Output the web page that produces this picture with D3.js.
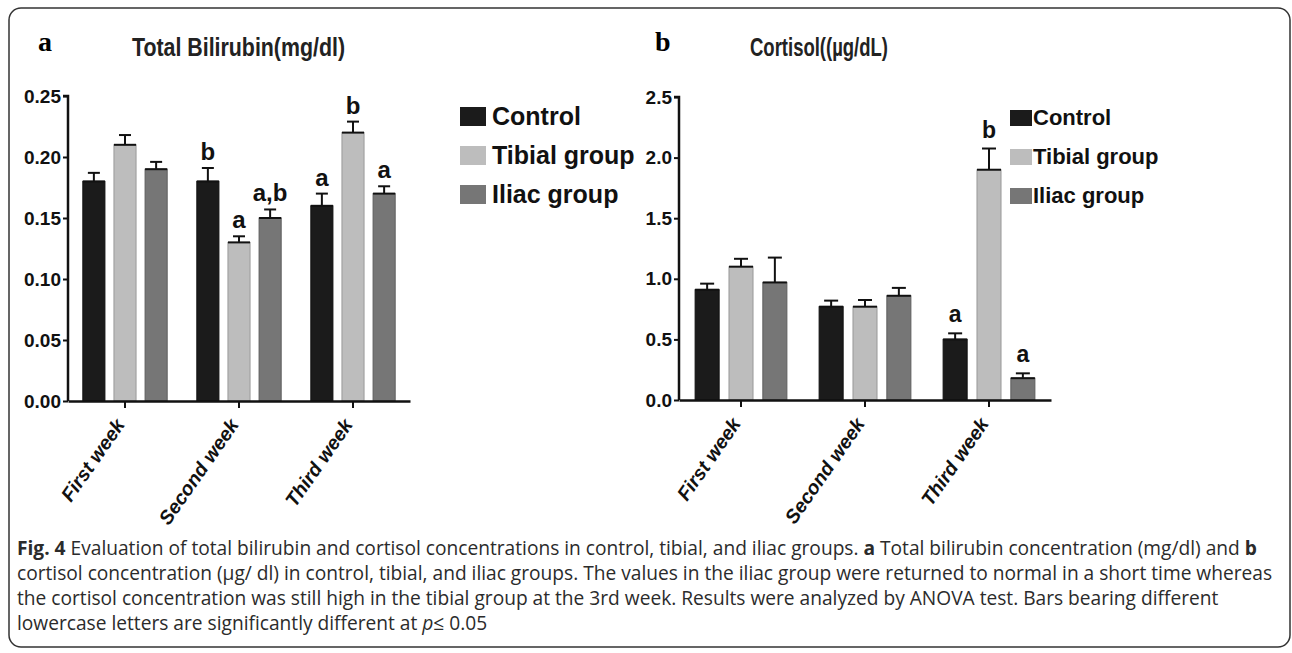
<!DOCTYPE html>
<html lang="en">

<head>
    <title>Bilirubin and cortisol</title>
    <meta charset="utf-8" />
    <script src="https://d3js.org/d3.v7.min.js"></script>
    <style>
        body,
        html {
            margin: 0;
            padding: 0;
            background: #fff;
            overflow: hidden;
        }

        .tick text {
            font-family: "Liberation Sans", Arial, sans-serif;
            font-weight: bold;
        }
    </style>
</head>

<body>
    <div id="chart"></div>
    <script>
        // categories
        const weeks = ["First week", "Second week", "Third week"];
        const groups = ["Control", "Tibial group", "Iliac group"];

        // total bilirubin (mg/dl), mean and upper SEM
        const biliControl = [0.18, 0.18, 0.16];
        const biliTibial = [0.21, 0.13, 0.22];
        const biliIliac = [0.19, 0.15, 0.17];
        const biliControlErr = [0.007, 0.011, 0.010];
        const biliTibialErr = [0.008, 0.005, 0.009];
        const biliIliacErr = [0.006, 0.007, 0.006];
        const biliLetters = [["", "", ""], ["b", "a", "a,b"], ["a", "b", "a"]];
        const biliTicks = [0, 0.05, 0.10, 0.15, 0.20, 0.25];

        // cortisol (µg/dL), mean and upper SEM
        const cortControl = [0.91, 0.77, 0.50];
        const cortTibial = [1.10, 0.77, 1.90];
        const cortIliac = [0.97, 0.86, 0.18];
        const cortControlErr = [0.05, 0.05, 0.05];
        const cortTibialErr = [0.065, 0.055, 0.175];
        const cortIliacErr = [0.205, 0.065, 0.04];
        const cortLetters = [["", "", ""], ["", "", ""], ["a", "b", "a"]];
        const cortTicks = [0, 0.5, 1.0, 1.5, 2.0, 2.5];

        const fills = ["#1b1b1b", "#bdbdbd", "#767676"];
        const strokes = ["#111", "#9a9a9a", "#5e5e5e"];

        const W = 1292, H = 653;
        const svg = d3.select("#chart").append("svg")
            .attr("width", W)
            .attr("height", H);

        // frame
        svg.append("rect")
            .attr("x", 9).attr("y", 8)
            .attr("width", 1281).attr("height", 639)
            .attr("rx", 12)
            .attr("fill", "none")
            .attr("stroke", "#333")
            .attr("stroke-width", 1.5);

        function drawPanel(p) {
            const rows = weeks.map((w, i) => ({
                week: w,
                vals: [p.control[i], p.tibial[i], p.iliac[i]],
                errs: [p.controlErr[i], p.tibialErr[i], p.iliacErr[i]],
                letters: p.letters[i]
            }));

            const x0 = d3.scaleBand()
                .domain(weeks)
                .range([p.left, p.right])
                .paddingInner(0.26)
                .paddingOuter(0.13);
            const x1 = d3.scaleBand()
                .domain(groups)
                .range([0, x0.bandwidth()])
                .paddingInner(0.29)
                .paddingOuter(0);
            const y = d3.scaleLinear()
                .domain([0, p.max])
                .range([p.bottom, p.top]);

            const g = svg.append("g");

            // panel letter + title
            g.append("text")
                .attr("x", p.letterX).attr("y", 51)
                .attr("font-family", "'Liberation Serif', 'Times New Roman', serif")
                .attr("font-weight", "bold")
                .attr("font-size", 28)
                .text(p.panel);
            g.append("text")
                .attr("x", p.titleX).attr("y", 56)
                .attr("font-family", "'Liberation Sans Narrow', 'Liberation Sans', Arial, sans-serif")
                .attr("font-weight", "bold")
                .attr("font-size", 26)
                .attr("textLength", p.titleW)
                .attr("lengthAdjust", "spacingAndGlyphs")
                .attr("fill", "#222")
                .text(p.title);

            const bars = g.selectAll(".grp")
                .data(rows)
                .join("g")
                .attr("transform", d => `translate(${x0(d.week)},0)`);

            const items = bars.selectAll("g")
                .data(d => groups.map((k, j) => ({ key: k, j, v: d.vals[j], e: d.errs[j], l: d.letters[j] })))
                .join("g");

            // error bars (upper only)
            items.append("line")
                .attr("x1", d => x1(d.key) + x1.bandwidth() / 2)
                .attr("x2", d => x1(d.key) + x1.bandwidth() / 2)
                .attr("y1", d => y(d.v))
                .attr("y2", d => y(d.v + d.e))
                .attr("stroke", "#111")
                .attr("stroke-width", 2);
            items.append("line")
                .attr("x1", d => x1(d.key) + x1.bandwidth() / 2 - p.cap)
                .attr("x2", d => x1(d.key) + x1.bandwidth() / 2 + p.cap)
                .attr("y1", d => y(d.v + d.e))
                .attr("y2", d => y(d.v + d.e))
                .attr("stroke", "#111")
                .attr("stroke-width", 2);

            items.append("rect")
                .attr("x", d => x1(d.key))
                .attr("y", d => y(d.v))
                .attr("width", x1.bandwidth())
                .attr("height", d => y(0) - y(d.v))
                .attr("fill", d => fills[d.j])
                .attr("stroke", d => strokes[d.j])
                .attr("stroke-width", 1);
            // bar top edge
            items.append("line")
                .attr("x1", d => x1(d.key))
                .attr("x2", d => x1(d.key) + x1.bandwidth())
                .attr("y1", d => y(d.v))
                .attr("y2", d => y(d.v))
                .attr("stroke", "#111")
                .attr("stroke-width", 2);

            // significance letters
            items.filter(d => d.l !== "")
                .append("text")
                .attr("x", d => x1(d.key) + x1.bandwidth() / 2)
                .attr("y", d => y(d.v + d.e) - p.letterGap)
                .attr("text-anchor", "middle")
                .attr("font-family", "'Liberation Sans', Arial, sans-serif")
                .attr("font-weight", "bold")
                .attr("font-size", p.letterSize)
                .attr("fill", "#111")
                .text(d => d.l);

            // axes
            const yAxis = d3.axisLeft(y)
                .tickValues(p.ticks)
                .tickFormat(d3.format(p.fmt))
                .tickSize(5)
                .tickPadding(2);
            const ya = g.append("g")
                .attr("transform", `translate(${p.left},0)`)
                .call(yAxis);
            ya.select(".domain").attr("stroke-width", 2.5).attr("stroke", "#111")
                .attr("d", `M-5,${p.top}H0V${p.bottom}`);
            ya.selectAll(".tick line").attr("stroke-width", 2).attr("stroke", "#111");
            ya.selectAll(".tick text").attr("font-size", 19).attr("fill", "#111");

            const xAxis = d3.axisBottom(x0)
                .tickSize(7)
                .tickSizeOuter(0)
                .tickPadding(2);
            const xa = g.append("g")
                .attr("transform", `translate(0,${p.bottom})`)
                .call(xAxis);
            xa.select(".domain").attr("stroke-width", 2.5).attr("stroke", "#111");
            xa.selectAll(".tick line").attr("stroke-width", 2).attr("stroke", "#111");
            xa.selectAll(".tick text")
                .attr("font-size", 19.5)
                .attr("font-style", "italic")
                .attr("fill", "#111")
                .attr("text-anchor", "end")
                .attr("dy", "0.35em")
                .attr("transform", "translate(-5,20) rotate(-55)")
                .attr("y", 0)
                .attr("x", 0);

            // legend
            const leg = g.append("g")
                .selectAll("g")
                .data(groups)
                .join("g")
                .attr("transform", (d, i) => `translate(${p.legX},${125 + i * 39})`);
            leg.append("rect")
                .attr("x", 0)
                .attr("y", -p.legBoxH + 1)
                .attr("width", p.legBoxW)
                .attr("height", p.legBoxH)
                .attr("fill", (d, i) => fills[i]);
            leg.append("text")
                .attr("x", p.legBoxW + p.legGap)
                .attr("y", 0)
                .attr("font-family", "'Liberation Sans', Arial, sans-serif")
                .attr("font-weight", "bold")
                .attr("font-size", p.legSize)
                .attr("fill", "#111")
                .text(d => d);
        }

        drawPanel({
            panel: "a", letterX: 38, title: "Total Bilirubin(mg/dl)", titleX: 132, titleW: 213,
            control: biliControl, tibial: biliTibial, iliac: biliIliac,
            controlErr: biliControlErr, tibialErr: biliTibialErr, iliacErr: biliIliacErr,
            letters: biliLetters, ticks: biliTicks, fmt: ".2f", max: 0.25,
            left: 68, right: 410, top: 96, bottom: 401, cap: 6,
            letterGap: 8, letterSize: 24,
            legX: 460, legBoxW: 26, legBoxH: 19, legGap: 6, legSize: 25
        });

        drawPanel({
            panel: "b", letterX: 655, title: "Cortisol((µg/dL)", titleX: 750, titleW: 138,
            control: cortControl, tibial: cortTibial, iliac: cortIliac,
            controlErr: cortControlErr, tibialErr: cortTibialErr, iliacErr: cortIliacErr,
            letters: cortLetters, ticks: cortTicks, fmt: ".1f", max: 2.5,
            left: 679, right: 1051, top: 97, bottom: 400, cap: 7,
            letterGap: 11, letterSize: 23,
            legX: 1010, legBoxW: 22, legBoxH: 16, legGap: 1, legSize: 22
        });

        // caption: one condensed face for all lines
        const capLines = [
            [["Fig. 4", "b"], [" Evaluation of total bilirubin and cortisol concentrations in control, tibial, and iliac groups. ", ""], ["a", "b"], [" Total bilirubin concentration (mg/dl) and ", ""], ["b", "b"]],
            [["cortisol concentration (µg/ dl) in control, tibial, and iliac groups. The values in the iliac group were returned to normal in a short time whereas", ""]],
            [["the cortisol concentration was still high in the tibial group at the 3rd week. Results were analyzed by ANOVA test. Bars bearing different", ""]],
            [["lowercase letters are significantly different at ", ""], ["p", "i"], ["≤ 0.05", ""]]
        ];
        const cap = svg.append("g")
            .attr("font-family", "'Open Sans', 'Noto Sans', sans-serif")
            .attr("font-size", 20)
            .attr("fill", "#2b2b2b");
        const capText = capLines.map((parts, i) => {
            const t = cap.append("text")
                .attr("x", 0)
                .attr("y", 0);
            parts.forEach(([s, st]) => {
                t.append("tspan")
                    .attr("font-weight", st === "b" ? "bold" : null)
                    .attr("font-style", st === "i" ? "italic" : null)
                    .text(s);
            });
            return t;
        });
        // squeeze so the first line spans the frame like the reference
        const k = 1240 / capText[0].node().getComputedTextLength();
        capText.forEach((t, i) => {
            t.attr("transform", `translate(17,${555 + i * 25}) scale(${k},1)`);
        });
    </script>
</body>

</html>
